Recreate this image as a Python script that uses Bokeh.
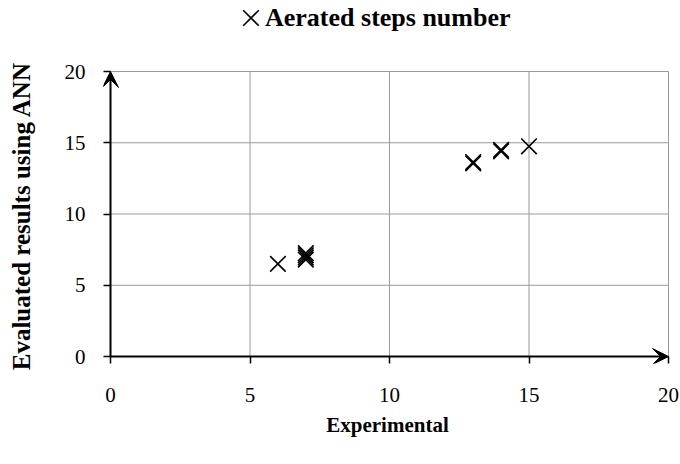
from bokeh.plotting import figure
from bokeh.layouts import column
from bokeh.models import (ColumnDataSource, Range1d, FixedTicker, Arrow, VeeHead,
                          Legend, LegendItem)
from bokeh.embed import file_html
from bokeh.resources import INLINE

# data
experimental = [6, 7, 7, 7, 7, 13, 13, 14, 14, 15]
evaluated = [6.5, 6.8, 6.95, 7.1, 7.25, 13.55, 13.65, 14.4, 14.5, 14.75]
series_name = "Aerated steps number"
x_ticks = [0, 5, 10, 15, 20]
y_ticks = [0, 5, 10, 15, 20]
x_max = 20
y_max = 20

FONT = "Liberation Serif"
GRID = "#9a9a9a"
W = 680
HEAD_H = 40
MARKER = dict(marker="x", size=22, line_color="black", line_width=1.6)

src = ColumnDataSource(dict(x=experimental, y=evaluated))

# ---- header with legend (its frame shows none of the points) ----
head = figure(width=W, height=HEAD_H, output_backend="svg", toolbar_location=None,
              x_range=Range1d(-3, -2), y_range=Range1d(-3, -2),
              min_border_left=0, min_border_right=0, min_border_top=0,
              min_border_bottom=0)
head.axis.visible = False
head.grid.visible = False
head.outline_line_color = None
hr = head.scatter("x", "y", source=src, **MARKER)
common = dict(padding=0, margin=0, spacing=0, border_line_color=None,
              background_fill_alpha=0, label_text_font=FONT,
              label_text_font_style="bold", label_text_font_size="26px",
              label_text_color="black", label_standoff=0)
# legend key (marker)
key = Legend(items=[LegendItem(label=" ", renderers=[hr])],
             location=(120, -5), glyph_width=55, glyph_height=55, **common)
# legend label
lab = Legend(items=[LegendItem(label=series_name, renderers=[hr])],
             location=(162, 7), glyph_width=0, glyph_height=30, **common)
head.add_layout(key, "center")
head.add_layout(lab, "center")

# ---- main plot ----
px_x = 558 / x_max
px_y = 285 / y_max
pad_lo, pad_hi = 7, 3
p = figure(width=W, height=464 - HEAD_H, output_backend="svg", toolbar_location=None,
           x_range=Range1d(-pad_lo / px_x, x_max + pad_hi / px_x),
           y_range=Range1d(-pad_lo / px_y, y_max + pad_hi / px_y),
           min_border_left=103, min_border_right=W - 671,
           min_border_top=68 - HEAD_H, min_border_bottom=464 - 363)
p.outline_line_color = None
p.grid.visible = False

for ax, ticks in ((p.xaxis[0], x_ticks), (p.yaxis[0], y_ticks)):
    ax.ticker = FixedTicker(ticks=ticks)
    ax.axis_line_color = None
    ax.major_tick_line_color = "black"
    ax.major_tick_line_width = 1.5
    ax.major_tick_out = 0
    ax.major_tick_in = pad_lo
    ax.minor_tick_line_color = None
    ax.major_label_text_font = FONT
    ax.major_label_text_font_size = "21px"
    ax.major_label_text_color = "black"
    ax.axis_label_text_font = FONT
    ax.axis_label_text_font_style = "bold"
    ax.axis_label_text_color = "black"

p.xaxis.axis_label = "Experimental"
p.yaxis.axis_label = "Evaluated results using ANN"
p.xaxis.axis_label_text_font_size = "21px"
p.yaxis.axis_label_text_font_size = "25px"
p.xaxis.major_label_standoff = 24
p.yaxis.major_label_standoff = 18
p.xaxis.axis_label_standoff = 8
p.yaxis.axis_label_standoff = 27

# grid lines within the 0..max region
p.segment(x0=x_ticks[1:], y0=[0] * (len(x_ticks) - 1), x1=x_ticks[1:],
          y1=[y_max] * (len(x_ticks) - 1), line_color=GRID, line_width=1)
p.segment(x0=[0] * (len(y_ticks) - 1), y0=y_ticks[1:], x1=[x_max] * (len(y_ticks) - 1),
          y1=y_ticks[1:], line_color=GRID, line_width=1)

# axis lines with arrowheads
for xe, ye in ((x_max, 0), (0, y_max)):
    p.add_layout(Arrow(x_start=0, y_start=0, x_end=xe, y_end=ye, line_color="black",
                       line_width=2, end=VeeHead(size=16, fill_color="black",
                                                 line_color="black", line_width=1)))

p.scatter("x", "y", source=src, **MARKER)

layout = column(head, p, spacing=0)
open("out.html", "w").write(file_html(layout, INLINE))
